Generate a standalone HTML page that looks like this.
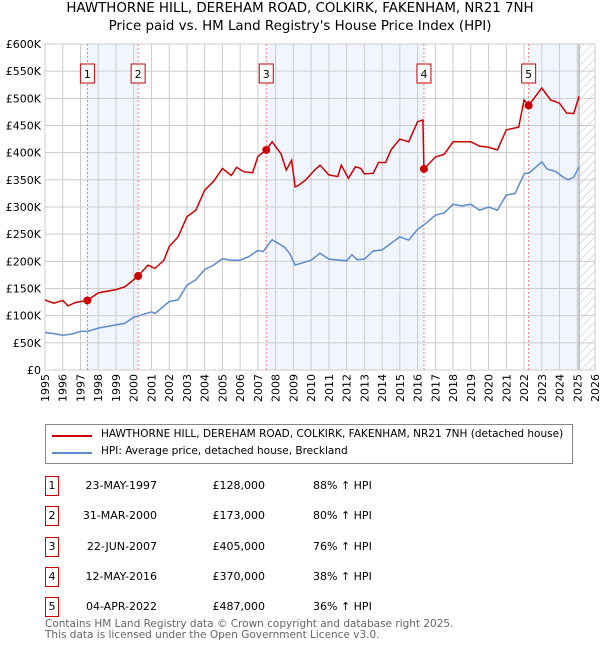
<!DOCTYPE html>
<html><head><meta charset="utf-8"><style>
body{margin:0;width:600px;height:650px;background:#fff;font-family:"DejaVu Sans","Liberation Sans",sans-serif;overflow:hidden;position:relative}
.t{position:absolute;font-size:11px;color:#000;white-space:nowrap}
</style></head><body>
<div class="t" style="left:0;width:600px;text-align:center;top:1px;font-size:13.4px">HAWTHORNE HILL, DEREHAM ROAD, COLKIRK, FAKENHAM, NR21 7NH</div>
<div class="t" style="left:0;width:600px;text-align:center;top:19px;font-size:13.4px">Price paid vs. HM Land Registry's House Price Index (HPI)</div>
<svg id="chart" width="600" height="420" style="position:absolute;left:0;top:0" font-family="DejaVu Sans, Liberation Sans, sans-serif"></svg>
<div style="position:absolute;left:45px;top:424px;width:526px;height:38px;border:1px solid #888">
<div style="position:absolute;left:6px;width:40px;height:2px;background:#cc0000;top:10px"></div>
<div class="t" style="left:55px;top:3px;font-size:10.5px">HAWTHORNE HILL, DEREHAM ROAD, COLKIRK, FAKENHAM, NR21 7NH (detached house)</div>
<div style="position:absolute;left:6px;top:27px;width:40px;height:2px;background:#5b8bd0"></div>
<div class="t" style="left:55px;top:20px;font-size:10.5px">HPI: Average price, detached house, Breckland</div>
</div>
<div id="table"></div>
<div class="t" style="left:45px;top:619px;color:#666;line-height:11px;font-size:10.5px">Contains HM Land Registry data © Crown copyright and database right 2025.<br>This data is licensed under the Open Government Licence v3.0.</div>
<script>
const hpiX=[1995,1995.5,1996,1996.5,1997,1997.4,1998,1999,1999.5,2000,2001,2001.2,2002,2002.5,2003,2003.5,2004,2004.5,2005,2005.5,2006,2006.5,2007,2007.3,2007.8,2008.5,2008.8,2009.1,2009.5,2010,2010.5,2011,2012,2012.3,2012.6,2013,2013.5,2014,2014.5,2015,2015.5,2016,2016.36,2017,2017.5,2018,2018.5,2019,2019.5,2020,2020.5,2021,2021.5,2022,2022.3,2023,2023.3,2023.8,2024.2,2024.5,2024.8,2025.1];
const hpiY=[69,67,64,66,71,71,77,83,86,97,107,104,126,129,156,166,185,193,205,202,202,209,220,218,240,226,214,193,197,202,215,204,201,212,203,204,219,221,233,245,239,259,267,285,289,305,302,305,294,300,294,322,325,361,363,383,370,365,355,350,355,374];
const ppX=[1995,1995.5,1996,1996.3,1996.7,1997,1997.39,1998,1999,1999.5,2000.25,2000.8,2001.2,2001.7,2002,2002.5,2003,2003.5,2004,2004.5,2005,2005.5,2005.8,2006.2,2006.7,2007,2007.47,2007.8,2008.3,2008.6,2008.9,2009.1,2009.3,2009.7,2010.2,2010.5,2011,2011.5,2011.7,2012.1,2012.5,2012.8,2013,2013.5,2013.8,2014.2,2014.5,2015,2015.5,2016,2016.3,2016.36,2017,2017.5,2018,2019,2019.5,2020,2020.5,2021,2021.7,2022,2022.26,2023,2023.5,2024,2024.4,2024.8,2025.1];
const ppY=[129,123,128,118,124,126,128,142,148,153,173,193,187,202,227,245,282,294,331,347,371,358,373,365,363,393,405,420,398,368,386,337,340,350,368,377,359,356,377,353,374,371,361,362,382,382,405,425,420,457,460,370,392,397,420,420,412,410,405,442,447,497,487,519,497,491,473,472,504];
const saleX=[1997.39,2000.25,2007.47,2016.36,2022.26];
const saleY=[128,173,405,370,487];
const saleDates=["23-MAY-1997","31-MAR-2000","22-JUN-2007","12-MAY-2016","04-APR-2022"];
const salePrices=["£128,000","£173,000","£405,000","£370,000","£487,000"];
const salePct=["88% ↑ HPI","80% ↑ HPI","76% ↑ HPI","38% ↑ HPI","36% ↑ HPI"];
const yTicks=[0,50,100,150,200,250,300,350,400,450,500,550,600];
const yLabels=["£0","£50K","£100K","£150K","£200K","£250K","£300K","£350K","£400K","£450K","£500K","£550K","£600K"];
const years=[];for(let y=1995;y<=2026;y++)years.push(y);
const L=45,R=595,T=44,B=370,x0=1995,x1=2026,dataEnd=2025.1;
const X=v=>L+(v-x0)/(x1-x0)*(R-L), Y=v=>B-v/600*(B-T);
const svg=document.getElementById('chart'),NS='http://www.w3.org/2000/svg';
function mk(tag,a,p){const e=document.createElementNS(NS,tag);for(const k in a)e.setAttribute(k,a[k]);(p||svg).appendChild(e);return e;}
svg.innerHTML='<defs><pattern id="hatch" width="6" height="6" patternUnits="userSpaceOnUse" patternTransform="rotate(45)"><line x1="0" y1="0" x2="0" y2="6" stroke="#bbb" stroke-width="1"/></pattern></defs>';
const bands=[[saleX[0],saleX[1]],[saleX[2],saleX[3]],[saleX[4],dataEnd]];
bands.forEach(b=>{const r=mk('rect',{x:X(b[0]),y:T,width:X(b[1])-X(b[0]),height:B-T,fill:'#eef3fc',opacity:0.8});

});
const h=mk('rect',{x:X(dataEnd),y:T,width:R-X(dataEnd),height:B-T,fill:'url(#hatch)'});


years.forEach(y=>{mk('line',{x1:X(y),x2:X(y),y1:T,y2:B,stroke:'#ccc'});
const t=mk('text',{x:0,y:0,'font-size':11,'text-anchor':'end',transform:`translate(${X(y)+4},${B+4}) rotate(-90)`});t.textContent=y;

});
yTicks.forEach((v,i)=>{mk('line',{x1:L,x2:R,y1:Y(v),y2:Y(v),stroke:'#ccc'});
const t=mk('text',{x:L-4,y:Y(v)+4,'font-size':11,'text-anchor':'end'});t.textContent=yLabels[i];

});
mk('rect',{x:L,y:T,width:R-L,height:B-T,fill:'none',stroke:'#ccc'});
mk('line',{x1:X(dataEnd),x2:X(dataEnd),y1:T,y2:B,stroke:'#999'});
saleX.forEach((s,i)=>{const l=mk('line',{x1:X(s),x2:X(s),y1:T,y2:B,stroke:'#f08080','stroke-dasharray':'2,2'});


const g=mk('g',{});


mk('rect',{x:X(s)-7,y:64,width:14,height:19,fill:'#fff',stroke:'#cc0000'},g);
const t=mk('text',{x:X(s),y:78,'font-size':11,'text-anchor':'middle'},g);t.textContent=i+1;});
const line=(xs,ys,c,n)=>{const p=mk('polyline',{points:xs.map((x,i)=>X(x)+','+Y(ys[i])).join(' '),fill:'none',stroke:c,'stroke-width':1.5});

};
line(hpiX,hpiY,'#5b8bd0','hpi-line');
line(ppX,ppY,'#cc0000','property-line');
saleX.forEach((s,i)=>{const c=mk('circle',{cx:X(s),cy:Y(saleY[i]),r:4,fill:'#cc0000'});

});
const tb=document.getElementById('table');
saleDates.forEach((d,i)=>{const top=476+i*30.3;
const r=document.createElement('div');


r.style.cssText=`position:absolute;left:0;top:${top}px;width:600px;height:20px`;
r.innerHTML=`<div style="position:absolute;left:45px;top:0;width:12px;height:18px;border:1px solid #cc0000;font-size:11px;text-align:center;line-height:18px">${i+1}</div>
<div class="t" style="right:443px;top:3px">${d}</div><div class="t" style="right:335px;top:3px">${salePrices[i]}</div><div class="t" style="left:313px;top:3px">${salePct[i]}</div>`;
tb.appendChild(r);});
</script>
</body></html>
